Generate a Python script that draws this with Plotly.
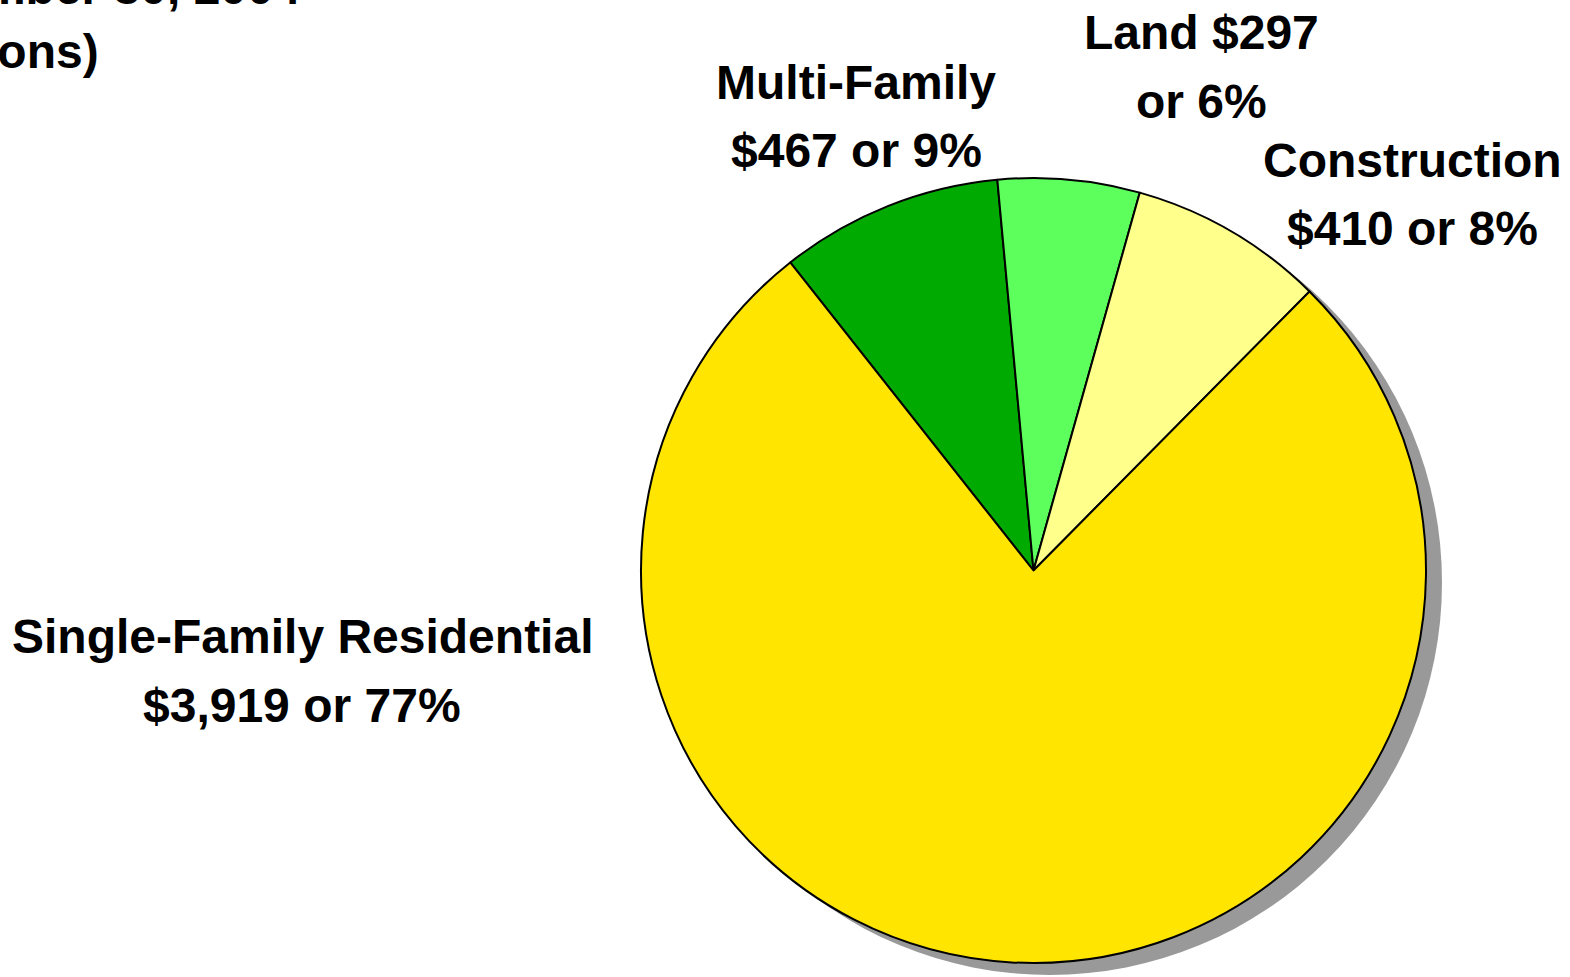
import plotly.graph_objects as go

# ---- data ----
categories = ["Multi-Family", "Land", "Construction", "Single-Family Residential"]
values = [467, 297, 410, 3919]
colors = ["#00AA00", "#5CFF5C", "#FFFF8C", "#FFE500"]
title_lines = ["Real Estate Loans as of September 30, 2004", "(Dollars in Millions)"]

W, H = 1570, 977


def px(x):
    return x / W


def py(y):
    return 1 - y / H


total = sum(values)
pcts = [round(v / total * 100) for v in values]

# label lines (Land breaks after the value)
line1, line2 = [], []
for c, v, p in zip(categories, values, pcts):
    if c == "Land":
        line1.append(f"{c} ${v:,}")
        line2.append(f"or {p}%")
    else:
        line1.append(c)
        line2.append(f"${v:,} or {p}%")

# label positions: center x, baseline of first line (pixels)
label_pos = {
    "Multi-Family": (856, 99),
    "Land": (1201, 50),
    "Construction": (1412, 177),
    "Single-Family Residential": (302, 653),
}
line_gap = 69
font_size = 48
mid_off = 17

fig = go.Figure()

# shadow
fig.add_trace(go.Pie(
    values=[total], labels=["shadow"], sort=False,
    marker=dict(colors=["#999999"], line=dict(width=0)),
    textinfo="none", hoverinfo="skip", showlegend=False,
    domain=dict(x=[px(641 + 16), px(1426 + 16)], y=[py(963 + 12), py(178 + 12)]),
))

# main pie
fig.add_trace(go.Pie(
    values=values, labels=categories, sort=False, direction="clockwise",
    rotation=-38.3,
    marker=dict(colors=colors, line=dict(color="black", width=2)),
    textinfo="none", showlegend=False,
    domain=dict(x=[px(641), px(1426)], y=[py(963), py(178)]),
))

font = dict(family="Liberation Sans, Arial, sans-serif", size=font_size, color="black")
ann = []
for c, l1, l2 in zip(categories, line1, line2):
    cx, by = label_pos[c]
    for i, t in enumerate([l1, l2]):
        ann.append(dict(
            x=px(cx), y=py(by + i * line_gap - mid_off), xref="paper", yref="paper",
            text=f"<b>{t}</b>", showarrow=False, xanchor="center", yanchor="middle",
            font=font,
        ))

# cut-off title at top-left (as in the reference)
title_right = [303, 101]
title_base = [5, 68]
for t, xr, yb in zip(title_lines, title_right, title_base):
    ann.append(dict(
        x=px(xr), y=py(yb - mid_off), xref="paper", yref="paper",
        text=f"<b>{t}</b>", showarrow=False, xanchor="right", yanchor="middle",
        font=font,
    ))

fig.update_layout(
    width=W, height=H, margin=dict(l=0, r=0, t=0, b=0),
    paper_bgcolor="white", plot_bgcolor="white",
    annotations=ann, showlegend=False,
)

fig.write_html(
    "out.html",
    config={"displayModeBar": False},
    post_script="document.body.style.margin='0';document.body.style.overflow='hidden';",
)
